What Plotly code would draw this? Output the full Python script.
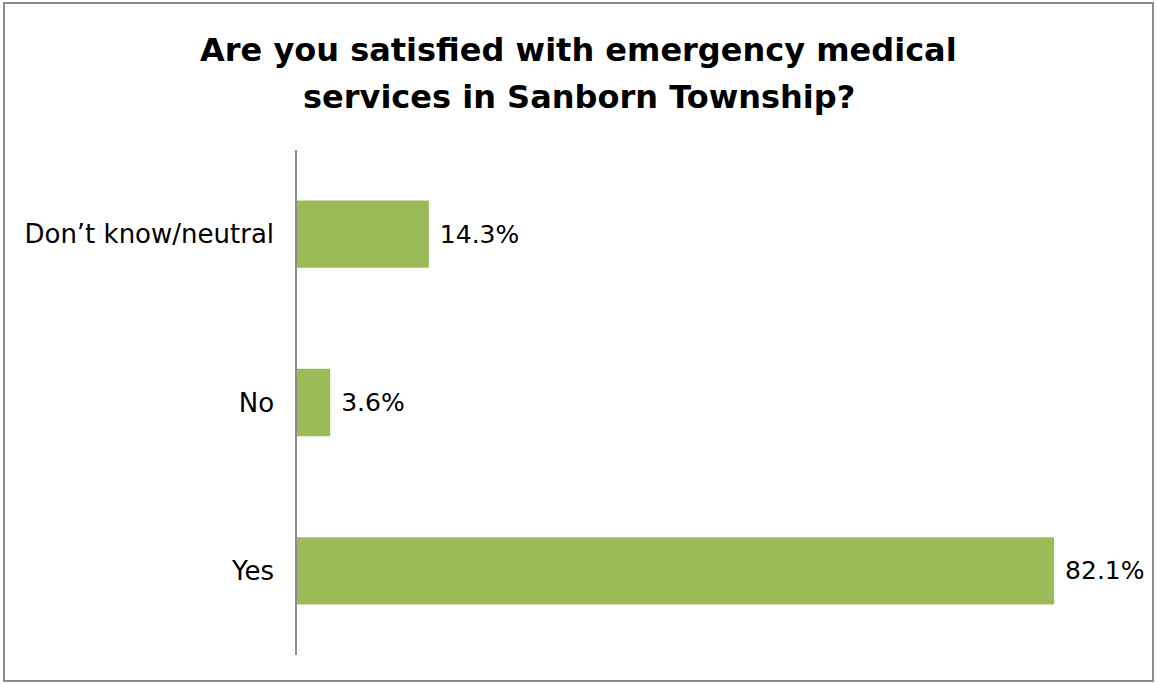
import plotly.graph_objects as go

categories = ["Yes", "No", "Don\u2019t know/neutral"]
values = [0.821, 0.036, 0.143]
title_lines = ["Are you satisfied with emergency medical",
               "services in Sanborn Township?"]

W, H = 1157, 684
L, R, T, B = 297, 30, 150, 29
pw, ph = W - L - R, H - T - B

FONT = "DejaVu Sans"

fig = go.Figure(go.Bar(
    y=categories, x=values, orientation="h",
    marker=dict(color="#9BBB59", line=dict(width=0)),
    width=0.4,
    text=[f" {v*100:.1f}%" for v in values],
    textposition="outside",
    textfont=dict(family=FONT, size=25, color="#000000"),
    cliponaxis=False,
    hoverinfo="skip",
))

title_centers_px = [50, 97]
annotations = [dict(text=f"<b>{t}</b>", xref="paper", yref="paper",
                    x=(W / 2 - L) / pw, y=(T + ph - cy) / ph,
                    xanchor="center", yanchor="middle", showarrow=False,
                    font=dict(family=FONT, size=32, color="#000000"))
               for t, cy in zip(title_lines, title_centers_px)]

fig.update_layout(
    width=W, height=H,
    margin=dict(l=L, r=R, t=T, b=B, pad=0),
    paper_bgcolor="white", plot_bgcolor="white",
    showlegend=False,
    annotations=annotations,
    xaxis=dict(range=[0, 0.9], visible=False, showgrid=False, zeroline=False),
    yaxis=dict(showline=True, linecolor="#8C8C8C", linewidth=1.5, ticks="",
               showgrid=False, zeroline=False, ticklabelstandoff=16,
               tickfont=dict(family=FONT, size=26, color="#000000")),
    shapes=[dict(type="rect", xref="paper", yref="paper",
                 x0=(4 - L) / pw, x1=(1153 - L) / pw,
                 y0=(T + ph - 681) / ph, y1=(T + ph - 3) / ph,
                 line=dict(color="#8C8C8C", width=2), fillcolor="rgba(0,0,0,0)",
                 layer="below")],
)

fig.write_html("out.html", config={"displayModeBar": False},
               post_script="document.body.style.margin='0';document.body.style.overflow='hidden';")
